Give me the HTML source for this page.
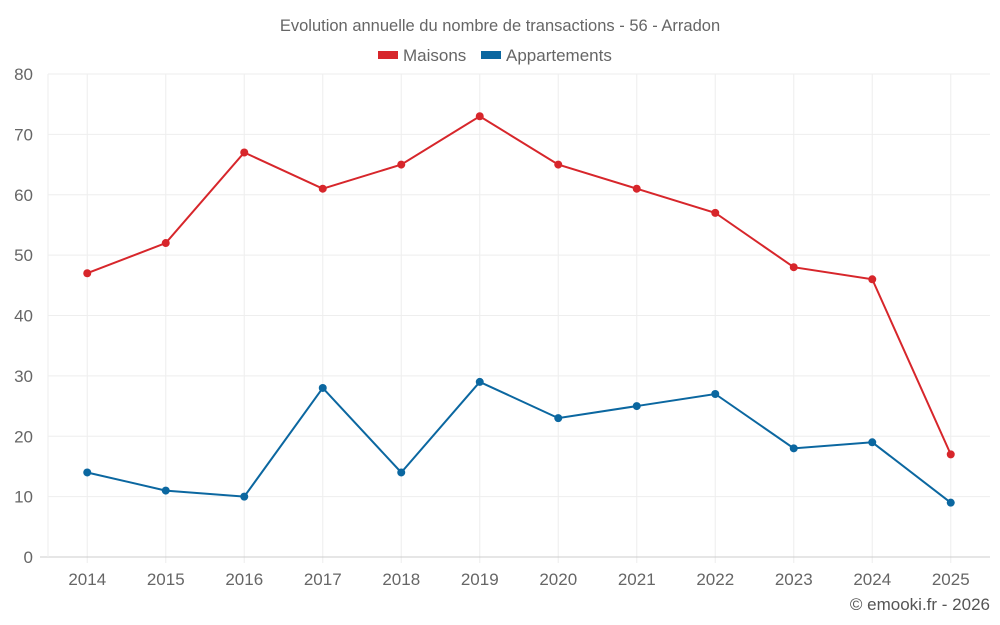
<!DOCTYPE html>
<html><head><meta charset="utf-8"><style>
body{margin:0;background:#fff;}
svg{display:block;font-family:"Liberation Sans",sans-serif;}
</style></head><body>
<svg id="chart" width="1000" height="625">
<text x="500" y="31" text-anchor="middle" font-size="16.5" fill="#666">Evolution annuelle du nombre de transactions - 56 - Arradon</text>
<g>
<g><rect x="378" y="51" width="20" height="8" fill="#d7262b"/><text x="403" y="61" font-size="17" fill="#666">Maisons</text></g>
<g><rect x="481" y="51" width="20" height="8" fill="#0b67a0"/><text x="506" y="61" font-size="17" fill="#666">Appartements</text></g>
</g>
<g id="grid"></g><g id="axes"></g><g id="series"></g>
<text x="990" y="610" text-anchor="end" font-size="17" fill="#555">© emooki.fr - 2026</text>
</svg>
<script>
const categories=["2014","2015","2016","2017","2018","2019","2020","2021","2022","2023","2024","2025"];
const maisons=[47,52,67,61,65,73,65,61,57,48,46,17];
const appartements=[14,11,10,28,14,29,23,25,27,18,19,9];
const yTicks=[0,10,20,30,40,50,60,70,80];
const L=48,R=990,T=74,B=557,yMax=80;
const bw=(R-L)/categories.length;
const x=i=>L+bw*(i+0.5);
const y=v=>B-(v/yMax)*(B-T);
const NS="http://www.w3.org/2000/svg";
function mk(tag,attrs,parent){const e=document.createElementNS(NS,tag);for(const k in attrs)e.setAttribute(k,attrs[k]);parent.appendChild(e);return e;}
const grid=document.getElementById('grid'),axes=document.getElementById('axes'),series=document.getElementById('series');
yTicks.forEach(t=>{
 if(t>0){const g=mk('line',{x1:L,x2:R,y1:y(t),y2:y(t),stroke:'#eee'},grid);
 
 }
 const tx=mk('text',{x:33,y:y(t)+6,'text-anchor':'end','font-size':17,fill:'#666'},axes);tx.textContent=t;
 
 
});
categories.forEach((c,i)=>{
 const g=mk('line',{x1:x(i),x2:x(i),y1:T,y2:B+6,stroke:'#eee'},grid);
 
 
 const tx=mk('text',{x:x(i),y:585,'text-anchor':'middle','font-size':17,fill:'#666'},axes);tx.textContent=c;
 
 
});
const ax=mk('line',{x1:40,x2:R,y1:B,y2:B,stroke:'#ccc'},axes);


const ay=mk('line',{x1:L,x2:L,y1:T,y2:B,stroke:'#eee'},axes);


function draw(vals,color,name){
 const p=mk('polyline',{points:vals.map((v,i)=>x(i)+','+y(v)).join(' '),fill:'none',stroke:color,'stroke-width':2},series);
 
 
 vals.forEach((v,i)=>{const c=mk('circle',{cx:x(i),cy:y(v),r:4,fill:color},series);
 
 });
}
draw(maisons,'#d7262b','maisons');
draw(appartements,'#0b67a0','appartements');
</script>
</body></html>
